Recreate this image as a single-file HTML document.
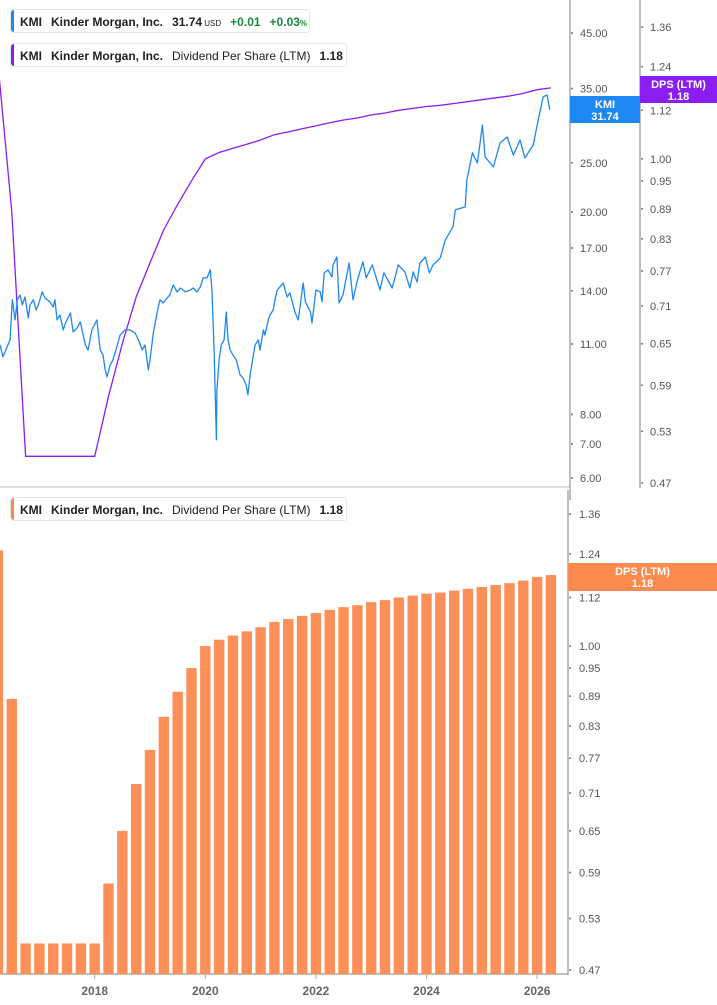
<!DOCTYPE html>
<html><head><meta charset="utf-8">
<style>
body{margin:0;width:717px;height:1005px;overflow:hidden;background:#fff;font-family:"Liberation Sans",sans-serif;}
svg{position:absolute;left:0;top:0}
.leg{position:absolute;left:10px;height:24px;border:1px solid #e6e6e6;border-radius:3px;background:#fff;font-size:12px;font-weight:bold;color:#222;line-height:24px;padding-left:9px;padding-right:8px;white-space:nowrap;box-sizing:border-box}
.leg .bar{position:absolute;left:0;top:0;bottom:0;width:3px;border-radius:3px 0 0 3px}
.leg span{margin-right:9px}
.n{font-weight:normal}
</style></head><body>
<svg id="c" width="717" height="1005"></svg>
<div class="leg" style="top:9px;width:300px"><div class="bar" style="background:#1e88f2"></div><span>KMI</span><span>Kinder Morgan, Inc.</span><span>31.74<small style="font-size:8px;font-weight:normal"> USD</small></span><span style="color:#1a8a3a">+0.01</span><span style="color:#1a8a3a">+0.03<small style="font-size:8px">%</small></span></div>
<div class="leg" style="top:43px;width:337px"><div class="bar" style="background:#8a1ef0"></div><span>KMI</span><span>Kinder Morgan, Inc.</span><span class="n">Dividend Per Share (LTM)</span><span>1.18</span></div>
<div class="leg" style="top:497px;width:337px"><div class="bar" style="background:#f98a4e"></div><span>KMI</span><span>Kinder Morgan, Inc.</span><span class="n">Dividend Per Share (LTM)</span><span>1.18</span></div>
<script>
const priceDates=[16.29,16.34,16.43,16.47,16.51,16.56,16.60,16.65,16.69,16.74,16.80,16.83,16.89,16.94,16.98,17.05,17.10,17.19,17.25,17.28,17.32,17.37,17.43,17.48,17.56,17.61,17.68,17.74,17.83,17.88,17.95,18.01,18.04,18.10,18.15,18.19,18.22,18.28,18.33,18.41,18.46,18.55,18.64,18.73,18.79,18.86,18.91,18.97,19.00,19.06,19.13,19.18,19.24,19.31,19.36,19.42,19.49,19.55,19.64,19.73,19.78,19.85,19.91,19.96,20.03,20.09,20.12,20.16,20.20,20.21,20.25,20.29,20.34,20.38,20.41,20.45,20.50,20.56,20.63,20.68,20.74,20.77,20.81,20.87,20.90,20.96,20.99,21.05,21.08,21.14,21.17,21.23,21.26,21.30,21.35,21.41,21.48,21.53,21.62,21.68,21.77,21.81,21.90,21.93,22.00,22.08,22.11,22.15,22.22,22.29,22.31,22.38,22.42,22.49,22.60,22.67,22.75,22.85,22.91,23.02,23.16,23.23,23.38,23.49,23.61,23.70,23.76,23.83,23.88,23.98,24.05,24.12,24.25,24.34,24.48,24.52,24.70,24.73,24.83,24.92,25.01,25.06,25.21,25.33,25.46,25.57,25.69,25.78,25.93,26.02,26.11,26.18,26.23];
const priceValues=[10.96,10.38,10.96,11.21,13.44,12.27,13.44,13.74,13.13,13.61,12.38,13.13,13.44,12.84,13.13,13.93,13.56,13.32,13.01,13.44,12.27,12.55,11.73,12.16,12.66,11.62,11.83,12.16,10.96,10.71,11.73,12.10,12.27,10.71,10.47,9.79,9.48,10.01,10.24,10.96,11.46,11.73,11.73,11.57,11.21,10.71,10.96,9.79,10.24,11.57,12.72,13.44,13.25,13.56,13.74,14.38,13.93,14.18,13.93,14.05,14.18,13.93,14.25,14.84,14.84,15.39,14.05,10.71,7.13,8.94,10.24,10.96,11.21,12.72,11.21,10.71,10.47,10.24,9.56,9.44,9.14,8.74,9.56,10.47,10.96,11.21,10.71,11.73,11.46,12.27,12.55,12.84,13.44,14.05,14.25,14.51,13.61,13.87,12.72,12.27,14.51,13.32,12.72,12.10,14.05,13.93,13.32,15.18,15.39,14.91,15.74,16.32,13.25,13.74,15.88,13.44,14.71,15.96,14.84,15.74,14.05,15.18,14.18,15.74,15.25,14.18,15.25,14.57,15.88,16.32,15.18,15.74,16.25,17.63,18.7,20.2,20.47,23.13,26.14,24.98,29.67,25.67,24.53,27.36,28.1,25.9,27.7,25.56,27.1,30.35,33.7,33.99,31.76];
const dpsDates=[16.25,16.5,16.75,17,17.25,17.5,17.75,18,18.25,18.5,18.75,19,19.25,19.5,19.75,20,20.25,20.5,20.75,21,21.25,21.5,21.75,22,22.25,22.5,22.75,23,23.25,23.5,23.75,24,24.25,24.5,24.75,25,25.25,25.5,25.75,26,26.25];
const dpsValues=[1.25,0.884,0.50,0.50,0.50,0.50,0.50,0.50,0.575,0.65,0.725,0.785,0.848,0.899,0.95,1.00,1.015,1.025,1.035,1.045,1.058,1.065,1.073,1.08,1.088,1.095,1.10,1.108,1.113,1.12,1.125,1.13,1.133,1.138,1.143,1.148,1.153,1.158,1.165,1.175,1.18];
const priceTicks=[45,35,25,20,17,14,11,8,7,6];
const dpsTicks=[1.36,1.24,1.12,1.00,0.95,0.89,0.83,0.77,0.71,0.65,0.59,0.53,0.47];
const yearTicks=[2018,2020,2022,2024,2026];

const NS='http://www.w3.org/2000/svg';
const svg=document.getElementById('c');
function mk(t,a,p){const e=document.createElementNS(NS,t);for(const k in a)e.setAttribute(k,a[k]);(p||svg).appendChild(e);return e;}
const X=t=>94.7+(t+2000-2018)*55.3;
const Xy=y=>94.7+(y-2018)*55.3;
const Yp=v=>33+(Math.log(45)-Math.log(v))*220.8;
const Yd1=v=>27+(Math.log(1.36)-Math.log(v))*429;
const Yd2=v=>970-(Math.log(v)-Math.log(0.47))*429;
const AX='#aaa',TX='#555';

let e=mk('line',{x1:0,y1:487,x2:570,y2:487,stroke:'#ddd','stroke-width':2});

e=mk('line',{x1:570,y1:0,x2:570,y2:500,stroke:AX,'stroke-width':1.5});

e=mk('line',{x1:640,y1:0,x2:640,y2:488,stroke:AX,'stroke-width':1.5});

e=mk('line',{x1:568,y1:490,x2:568,y2:975,stroke:AX,'stroke-width':1.5});

e=mk('line',{x1:0,y1:974,x2:568,y2:974,stroke:AX,'stroke-width':1.5});


priceTicks.forEach(v=>{const y=Yp(v);
 const t=mk('text',{x:580,y:y+4,'font-size':11,fill:TX});t.textContent=v.toFixed(2);
 
 mk('circle',{cx:572,cy:y,r:1,fill:'#777'});});
dpsTicks.forEach(v=>{let y=Yd1(v);
 let t=mk('text',{x:650,y:y+4,'font-size':11,fill:TX});t.textContent=v.toFixed(2);
 
 mk('circle',{cx:642,cy:y,r:1,fill:'#777'});
 y=Yd2(v);
 t=mk('text',{x:579,y:y+4,'font-size':11,fill:TX});t.textContent=v.toFixed(2);
 
 mk('circle',{cx:570,cy:y,r:1,fill:'#777'});});
yearTicks.forEach(y=>{const x=Xy(y);
 mk('line',{x1:x,y1:974,x2:x,y2:979,stroke:AX});
 const t=mk('text',{x:x,y:995,'font-size':12,'font-weight':'bold',fill:'#666','text-anchor':'middle'});t.textContent=y;
 });

const bg=mk('g',{});

dpsDates.forEach((d,i)=>{const x=X(d),y=Yd2(dpsValues[i]);
 const r=mk('rect',{x:x-5.2,y:y,width:10.4,height:974-y,fill:'#fd8f59'},bg);
 });

let p=mk('polyline',{points:dpsDates.map((d,i)=>X(d).toFixed(1)+','+Yd1(dpsValues[i]).toFixed(1)).join(' '),fill:'none',stroke:'#8a1ef0','stroke-width':1.3});

p=mk('polyline',{points:priceDates.map((d,i)=>X(d).toFixed(1)+','+Yp(priceValues[i]).toFixed(1)).join(' '),fill:'none',stroke:'#1e88f2','stroke-width':1.3,'stroke-linejoin':'round'});


function badge(x,y,w,h,col,l1,l2,name){
 const g=mk('g',{});
 mk('rect',{x:x,y:y,width:w,height:h,fill:col},g);
 let t=mk('text',{x:x+w/2,y:y+12,'font-size':11,'font-weight':'bold',fill:'#fff','text-anchor':'middle'},g);t.textContent=l1;
 t=mk('text',{x:x+w/2,y:y+24,'font-size':11,'font-weight':'bold',fill:'#fff','text-anchor':'middle'},g);t.textContent=l2;}
badge(570,96,70,27,'#1e88f2','KMI','31.74','price-badge');
badge(640,76,77,27,'#8a1ef0','DPS (LTM)','1.18','dps-badge-top');
badge(568,563,149,28,'#fd8a4e','DPS (LTM)','1.18','dps-badge-bottom');
</script>
</body></html>
